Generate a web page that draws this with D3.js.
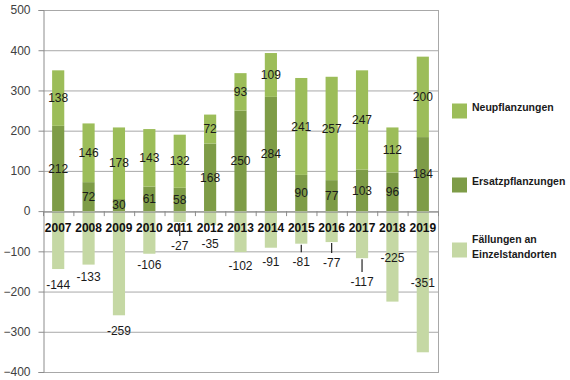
<!DOCTYPE html>
<html>
<head>
<meta charset="utf-8">
<script src="https://cdn.jsdelivr.net/npm/d3@7"></script>
<style>
  body { margin: 0; background: #fff; }
  svg { font-family: "Liberation Sans", Arial, sans-serif; }
</style>
</head>
<body>
<svg id="svg" width="570" height="380"></svg>
<script>
//categories
const YEARS = ["2007", "2008", "2009", "2010", "2011", "2012", "2013", "2014", "2015", "2016", "2017", "2018", "2019"];
//series values
const ERSATZ = [212, 72, 30, 61, 58, 168, 250, 284, 90, 77, 103, 96, 184];
const NEU = [138, 146, 178, 143, 132, 72, 93, 109, 241, 257, 247, 112, 200];
const FAELLUNGEN = [-144, -133, -259, -106, -27, -35, -102, -91, -81, -77, -117, -225, -351];
//where the Fällungen labels were put (in axis units)
const FAELL_LABEL_AT = [-184, -164, -298, -134, -87, -82, -137, -127, -127, -129, -176, -117, -179];
//which Fällungen labels have a leader line
const FAELL_LEADER = [0, 0, 0, 0, 1, 0, 0, 0, 1, 1, 1, 0, 0];
//tick labels
const Y_TICKS = [-400, -300, -200, -100, 0, 100, 200, 300, 400, 500];

const COL_NEU = "#9cbd59";
const COL_ERSATZ = "#7e9c47";
const COL_FAELL = "#c5d8a4";

var svg = d3.select("#svg");

var scaleX = d3.scaleBand()
        .domain(YEARS)
        .range([43, 438])
        .paddingInner(0.6)
        .paddingOuter(0.3);

var scaleY = d3.scaleLinear()
        .domain([-400, 500])
        .range([372, 10]);

//gridlines
svg.append("g")
        .selectAll("line")
        .data(Y_TICKS)
        .enter()
        .append("line")
        .attr("x1", 43)
        .attr("x2", 438)
        .attr("y1", (d) => scaleY(d) + 0.5)
        .attr("y2", (d) => scaleY(d) + 0.5)
        .attr("stroke", "#a8a8a8")
        .attr("stroke-width", 1);

//right border
svg.append("line")
        .attr("x1", 438.5).attr("x2", 438.5)
        .attr("y1", scaleY(500)).attr("y2", scaleY(-400) + 1)
        .attr("stroke", "#a8a8a8");

var rows = YEARS.map((y, i) => ({year: y, ersatz: ERSATZ[i], neu: NEU[i], fall: FAELLUNGEN[i], at: FAELL_LABEL_AT[i], leader: FAELL_LEADER[i]}));

var bars = svg.append("g");

//Ersatzpflanzungen (bottom segment)
bars.selectAll("rect.ersatz")
        .data(rows)
        .enter()
        .append("rect")
        .attr("class", "ersatz")
        .attr("x", (d) => scaleX(d.year))
        .attr("width", scaleX.bandwidth())
        .attr("y", (d) => scaleY(d.ersatz))
        .attr("height", (d) => scaleY(0) - scaleY(d.ersatz))
        .attr("fill", COL_ERSATZ);

//Neupflanzungen (stacked on top)
bars.selectAll("rect.neu")
        .data(rows)
        .enter()
        .append("rect")
        .attr("class", "neu")
        .attr("x", (d) => scaleX(d.year))
        .attr("width", scaleX.bandwidth())
        .attr("y", (d) => scaleY(d.ersatz + d.neu))
        .attr("height", (d) => scaleY(d.ersatz) - scaleY(d.ersatz + d.neu))
        .attr("fill", COL_NEU);

//Fällungen (negative)
bars.selectAll("rect.fall")
        .data(rows)
        .enter()
        .append("rect")
        .attr("class", "fall")
        .attr("x", (d) => scaleX(d.year))
        .attr("width", scaleX.bandwidth())
        .attr("y", scaleY(0))
        .attr("height", (d) => scaleY(d.fall) - scaleY(0))
        .attr("fill", COL_FAELL);

//y axis
var yAxis = d3.axisLeft(scaleY)
        .tickValues(Y_TICKS)
        .tickSize(5)
        .tickPadding(8);

var gy = svg.append("g")
        .attr("transform", "translate(43.5,0)")
        .call(yAxis);
gy.select(".domain").attr("stroke", "#8c8c8c");
gy.selectAll(".tick line").attr("stroke", "#8c8c8c");
gy.selectAll(".tick text")
        .attr("fill", "#404040")
        .style("font-size", "12px")
        .attr("x", -13);

//x axis at zero
var xAxis = d3.axisBottom(scaleX).tickSize(0).tickPadding(12);
var gx = svg.append("g")
        .attr("transform", "translate(0," + (scaleY(0) + 0.5) + ")")
        .call(xAxis);
gx.select(".domain").attr("stroke", "#8c8c8c");
gx.selectAll(".tick text")
        .attr("fill", "#111")
        .style("font-size", "12px")
        .style("font-weight", "bold");

//category boundary ticks
svg.append("g")
        .selectAll("line")
        .data(d3.range(YEARS.length + 1))
        .enter()
        .append("line")
        .attr("x1", (i) => 43.5 + i * scaleX.step())
        .attr("x2", (i) => 43.5 + i * scaleX.step())
        .attr("y1", scaleY(0))
        .attr("y2", scaleY(0) + 5)
        .attr("stroke", "#8c8c8c");

//data labels
var labels = svg.append("g")
        .style("font-size", "12px")
        .attr("fill", "#1a1a1a")
        .attr("text-anchor", "middle");

labels.selectAll("text.ersatz")
        .data(rows)
        .enter()
        .append("text")
        .attr("x", (d) => scaleX(d.year) + scaleX.bandwidth() / 2)
        .attr("y", (d) => scaleY(d.ersatz / 2))
        .attr("dy", "0.35em")
        .text((d) => d.ersatz);

labels.selectAll("text.neu")
        .data(rows)
        .enter()
        .append("text")
        .attr("x", (d) => scaleX(d.year) + scaleX.bandwidth() / 2)
        .attr("y", (d) => scaleY(d.ersatz + d.neu / 2))
        .attr("dy", "0.35em")
        .text((d) => d.neu);

labels.selectAll("text.fall")
        .data(rows)
        .enter()
        .append("text")
        .attr("x", (d) => scaleX(d.year) + scaleX.bandwidth() / 2)
        .attr("y", (d) => scaleY(d.at))
        .attr("dy", "0.35em")
        .text((d) => d.fall);

//leader lines for moved labels
svg.append("g")
        .selectAll("line")
        .data(rows.filter((d) => d.leader))
        .enter()
        .append("line")
        .attr("x1", (d) => scaleX(d.year) + scaleX.bandwidth() / 2)
        .attr("x2", (d) => scaleX(d.year) + scaleX.bandwidth() / 2)
        .attr("y1", (d) => scaleY(d.fall) + 1)
        .attr("y2", (d) => scaleY(d.at) - 10)
        .attr("stroke", "#222")
        .attr("stroke-width", 1.2);

//legend
var LEGEND = [
    {name: ["Neupflanzungen"], color: COL_NEU, y: 111},
    {name: ["Ersatzpflanzungen"], color: COL_ERSATZ, y: 185},
    {name: ["Fällungen an", "Einzelstandorten"], color: COL_FAELL, y: 250}
];

var lg = svg.append("g")
        .selectAll("g")
        .data(LEGEND)
        .enter()
        .append("g");

lg.append("rect")
        .attr("x", 452)
        .attr("y", (d) => d.y - 7.5)
        .attr("width", 15)
        .attr("height", 15)
        .attr("fill", (d) => d.color);

lg.append("text")
        .attr("x", 472)
        .attr("y", (d) => d.y - (d.name.length - 1) * 7.5)
        .attr("dy", "0.35em")
        .style("font-size", "10.5px")
        .style("font-weight", "bold")
        .attr("fill", "#1a1a1a")
        .selectAll("tspan")
        .data((d) => d.name)
        .enter()
        .append("tspan")
        .attr("x", 472)
        .attr("dy", (d, i) => i === 0 ? 0 : 15)
        .text((d) => d);
</script>
</body>
</html>
